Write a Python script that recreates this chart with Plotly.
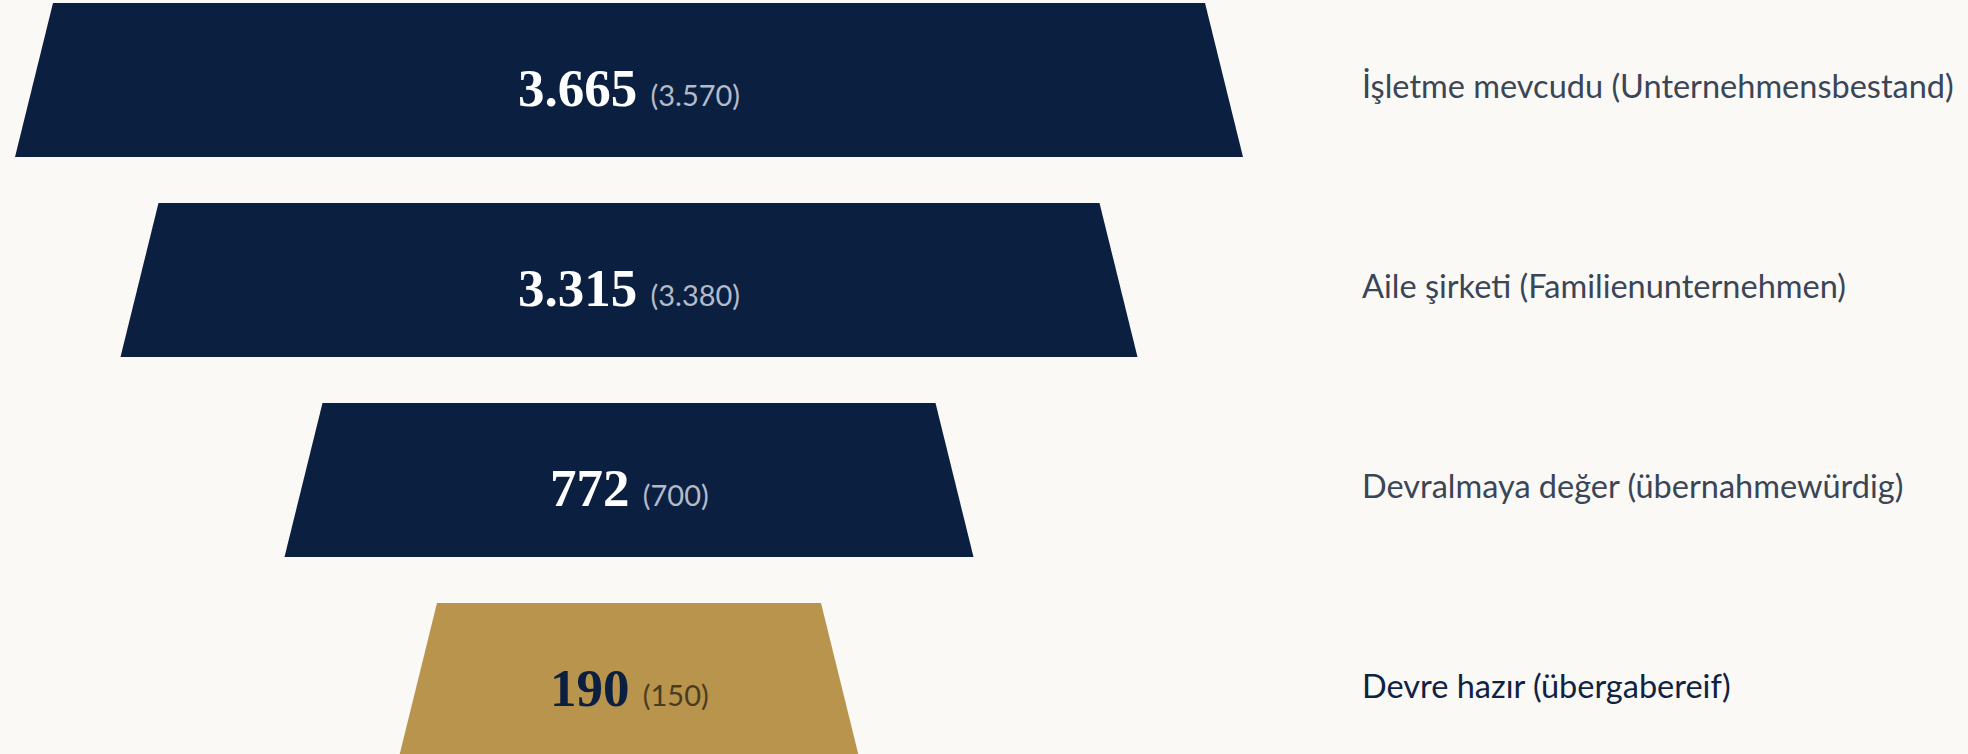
import plotly.graph_objects as go

# ---- data ----
stage_tr = ["İşletme mevcudu", "Aile şirketi", "Devralmaya değer", "Devre hazır"]
stage_de = ["Unternehmensbestand", "Familienunternehmen", "übernahmewürdig", "übergabereif"]
current = [3665, 3315, 772, 190]
previous = [3570, 3380, 700, 150]

# ---- style ----
top_width = [1152, 941, 613, 384]          # visual width of each funnel level (px)
slant = 38                                   # px each side widens downward
center_x = 629
half_h = 0.385                               # half height of a level in row units
fills = ["#0b1f41", "#0b1f41", "#0b1f41", "#b8944c"]
num_colors = ["#ffffff", "#ffffff", "#ffffff", "#0b1f41"]
prev_colors = ["#b3bac8", "#b3bac8", "#b3bac8", "#4a3d1f"]
label_colors = ["#3a4558", "#3a4558", "#3a4558", "#0e2244"]
bg = "#faf9f5"


def fmt(v):
    return f"{v:,}".replace(",", ".")


fig = go.Figure()
annotations = []
for i, (w, c) in enumerate(zip(top_width, fills)):
    xl, xr = center_x - w / 2, center_x + w / 2
    fig.add_trace(go.Scatter(
        x=[xl, xr, xr + slant, xl - slant, xl],
        y=[i - half_h, i - half_h, i + half_h, i + half_h, i - half_h],
        mode="lines", fill="toself", fillcolor=c,
        line=dict(width=0, color=c), hoverinfo="skip", showlegend=False,
    ))
    annotations.append(dict(
        x=center_x, y=i + 0.04, xref="x", yref="y", showarrow=False,
        xanchor="center", yanchor="middle",
        text=(f"<b>{fmt(current[i])}</b> "
              f"<span style='font-family:Lato;font-size:29px;color:{prev_colors[i]}'>"
              f"({fmt(previous[i])})</span>"),
        font=dict(family="Liberation Serif", size=53, color=num_colors[i]),
    ))
    annotations.append(dict(
        x=1360, y=i + 0.025, xref="x", yref="y", showarrow=False,
        xanchor="left", yanchor="middle",
        text=f"{stage_tr[i]} ({stage_de[i]})",
        font=dict(family="Lato", size=32.5, color=label_colors[i]),
    ))

fig.update_layout(
    width=1968, height=754,
    margin=dict(l=0, r=0, t=0, b=0),
    paper_bgcolor=bg, plot_bgcolor=bg,
    xaxis=dict(range=[0, 1968], visible=False, fixedrange=True),
    yaxis=dict(range=[3.37, -0.4], visible=False, fixedrange=True),
    annotations=annotations,
    showlegend=False,
)

fig.write_html("out.html")
